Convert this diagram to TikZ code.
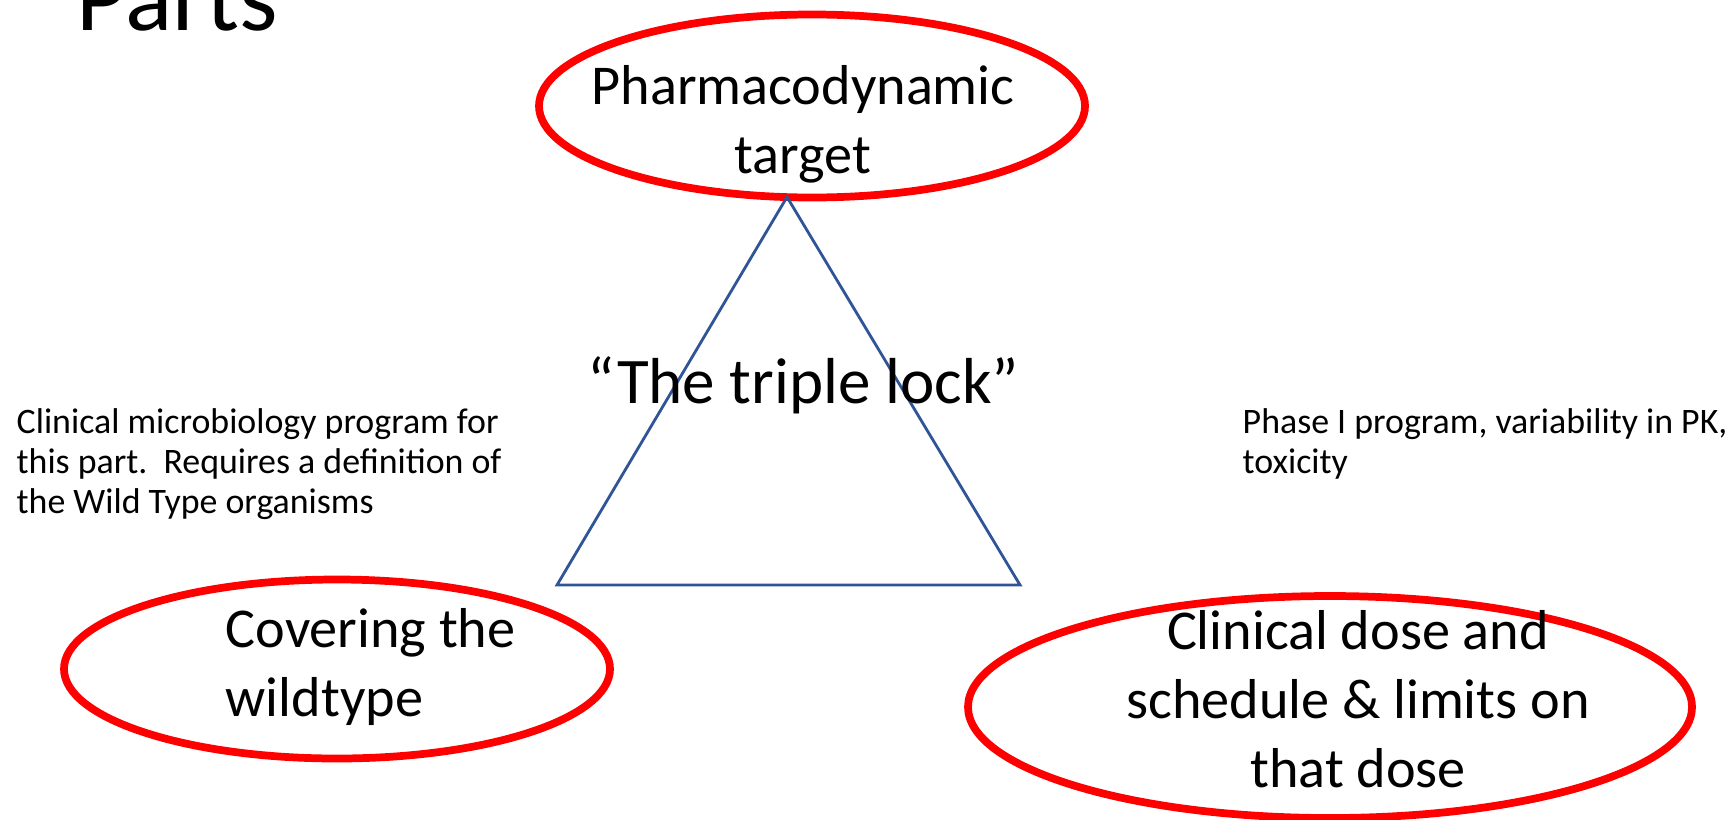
\documentclass[tikz,border=0pt]{standalone}
\usepackage{fontspec}
\setmainfont{Carlito}
\usetikzlibrary{shapes.geometric,positioning}

\begin{document}
\begin{tikzpicture}[x=1cm,y=1cm]
\tikzset{
  ringnode/.style={ellipse,draw=red,line width=2.2pt,inner sep=0pt},
  parttext/.style={inner sep=0pt,font=\fontsize{16}{19.7}\selectfont},
  notetext/.style={inner sep=0pt,align=left,font=\fontsize{10.2}{11.3}\selectfont},
  lockline/.style={draw={rgb,255:red,47;green,85;blue,151},line width=0.8pt}
}
\useasboundingbox (0,0) rectangle (17.36,8.19);
\node[inner sep=0pt,anchor=base west,font=\fontsize{28}{30}\selectfont] (n_title) at (0.76,7.89) {Parts};
\node[ringnode,minimum width=5.46cm,minimum height=1.83cm] (n_pd) at (8.12,7.13) {};
\node[ringnode,minimum width=5.46cm,minimum height=1.79cm] (n_wild) at (3.37,1.50) {};
\node[ringnode,minimum width=7.24cm,minimum height=2.22cm] (n_dose) at (13.30,1.12) {};
\node[parttext,align=center] (t_pd) at (8.03,6.95) {Pharmacodynamic\\target};
\node[parttext,align=left,anchor=west] (t_wild) at (2.25,1.52) {Covering the\\wildtype};
\node[parttext,align=center] (t_dose) at (13.58,1.20) {Clinical dose and\\schedule \& limits on\\that dose};
\coordinate (c_top) at (7.87,6.22);
\coordinate (c_left) at (5.57,2.34);
\coordinate (c_right) at (10.20,2.34);
\draw[lockline] (c_top) -- (c_left) -- (c_right) -- cycle;
\node[inner sep=0pt,anchor=base,font=\fontsize{18.5}{22}\selectfont] (n_lock) at (8.03,4.16) {“The triple lock”};
\node[notetext,anchor=north west] (n_micro) at (0.16,4.11) {Clinical microbiology program for\\this part.\ \ Requires a definition of\\the Wild Type organisms};
\node[notetext,anchor=north west] (n_phase) at (12.42,4.11) {Phase I program, variability in PK,\\toxicity};
\end{tikzpicture}
\end{document}
